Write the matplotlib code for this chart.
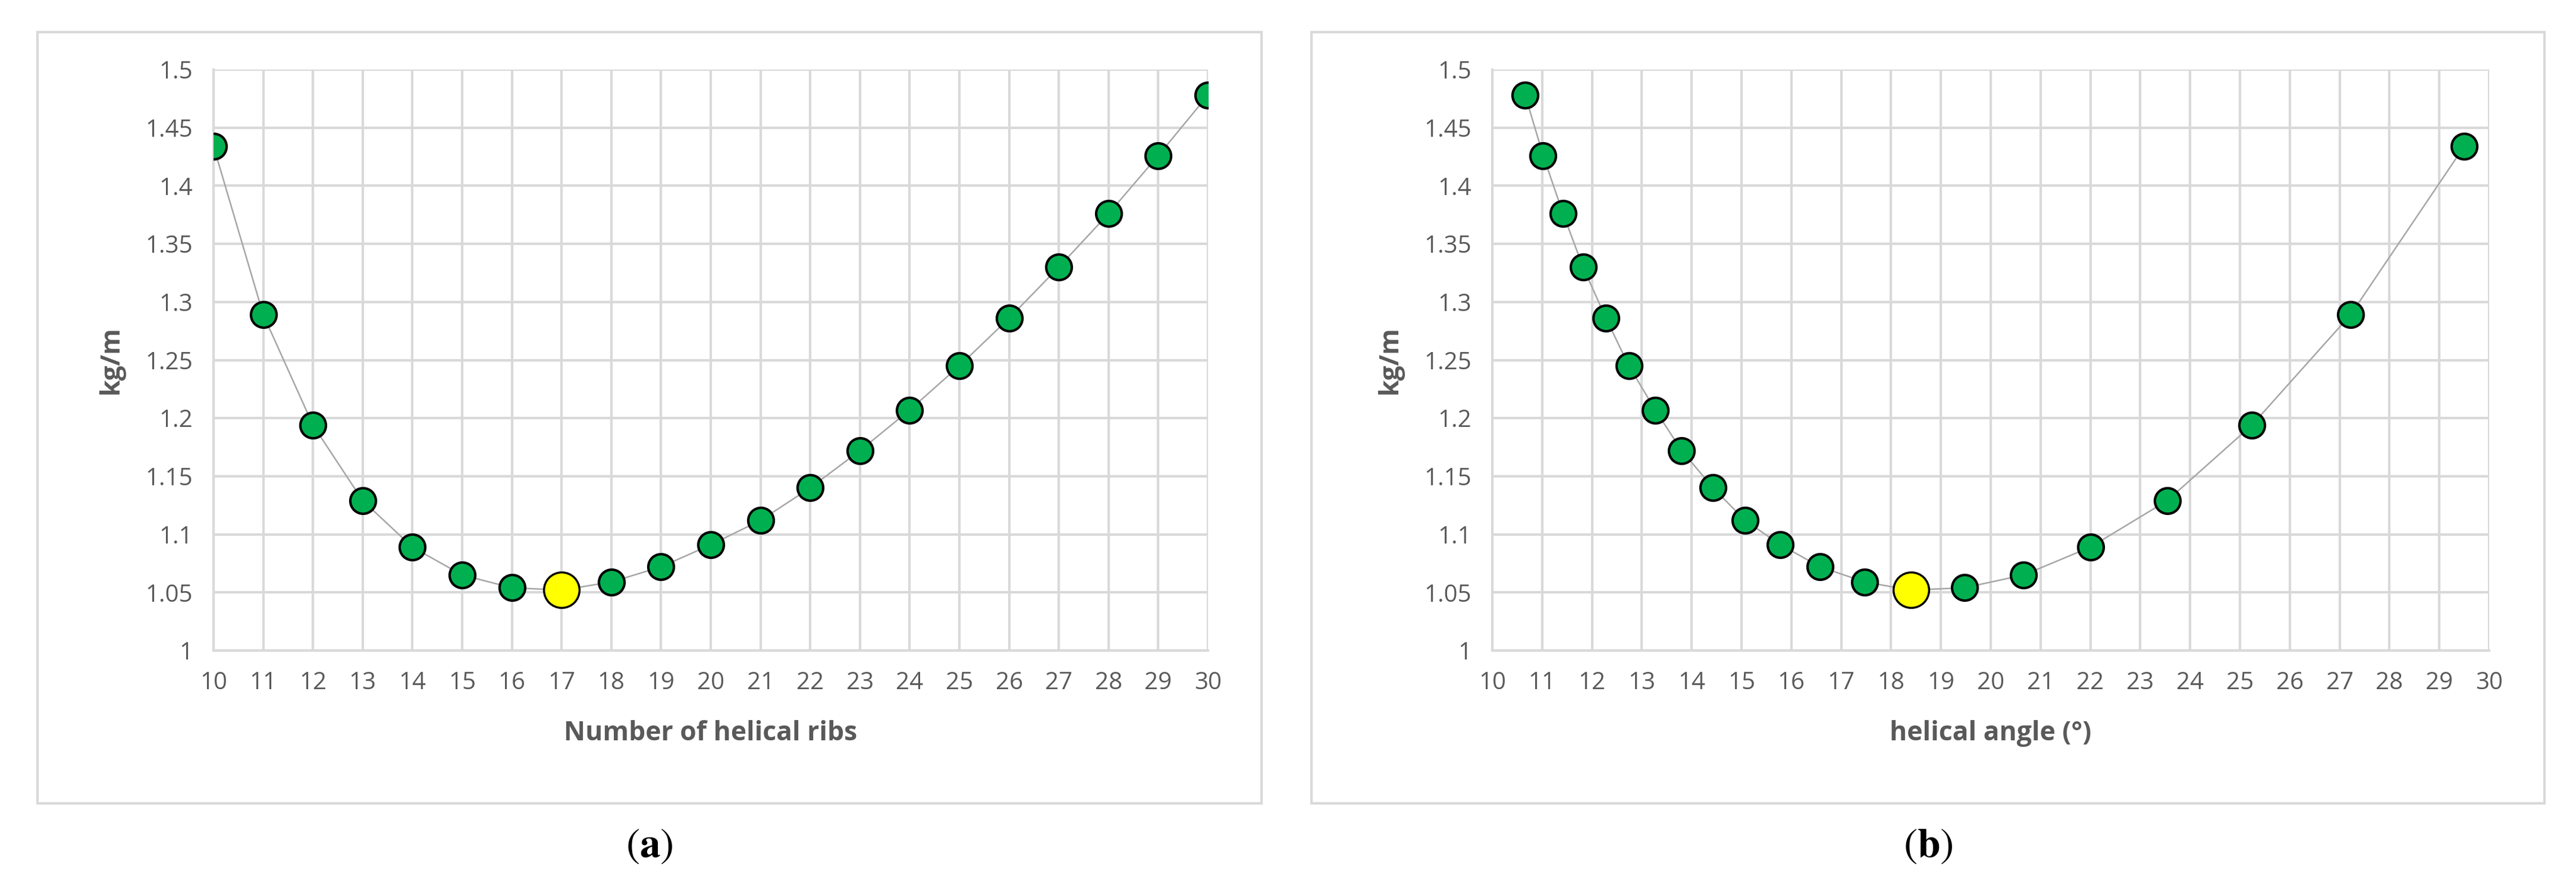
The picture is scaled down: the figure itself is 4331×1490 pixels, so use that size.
import numpy as np
import matplotlib.pyplot as plt
from matplotlib.patches import Rectangle

# data
ribs = [10, 11, 12, 13, 14, 15, 16, 17, 18, 19, 20, 21, 22, 23, 24, 25, 26, 27, 28, 29, 30]
mass = [1.434, 1.289, 1.194, 1.129, 1.089, 1.065, 1.054, 1.052, 1.059, 1.072, 1.091,
        1.112, 1.140, 1.172, 1.207, 1.245, 1.286, 1.330, 1.376, 1.426, 1.478]
angle = [29.50, 27.22, 25.24, 23.54, 22.00, 20.66, 19.47, 18.40, 17.47, 16.58, 15.78,
         15.07, 14.43, 13.80, 13.27, 12.74, 12.28, 11.82, 11.42, 11.02, 10.66]
best = 7  # index of optimum (17 ribs)

W, H = 4331, 1490
fig = plt.figure(figsize=(W / 100, H / 100), dpi=100)
plt.rcParams['font.family'] = ['Open Sans', 'DejaVu Sans']
plt.rcParams['mathtext.fontset'] = 'stix'
grey = '#595959'

panels = [
    (ribs, "Number of helical ribs", "a", 63, 2121, 359, 2031),
    (angle, "helical angle (°)", "b", 2205, 4278, 2509, 4185),
]

for x, xlabel, tag, bl, br, al, ar in panels:
    # outer frame
    fig.patches.append(Rectangle((bl / W, 1 - 1351 / H), (br - bl) / W, (1351 - 54) / H,
                                 transform=fig.transFigure, fill=False,
                                 edgecolor='#d9d9d9', linewidth=3))
    ax = fig.add_axes([al / W, 1 - 1094 / H, (ar - al) / W, (1094 - 117) / H])
    ax.plot(x, mass, color='#a6a6a6', linewidth=1.8, zorder=2)
    others = [i for i in range(len(x)) if i != best]
    ax.plot([x[i] for i in others], [mass[i] for i in others], 'o', linestyle='none',
            markersize=31, markerfacecolor='#00b050', markeredgecolor='black',
            markeredgewidth=3, zorder=3)
    ax.plot([x[best]], [mass[best]], 'o', markersize=43, markerfacecolor='#ffff00',
            markeredgecolor='black', markeredgewidth=2.5, zorder=4)
    ax.set_xlim(10, 30)
    ax.set_ylim(1, 1.5)
    ax.set_xticks(range(10, 31))
    ax.set_yticks(np.arange(1, 1.501, 0.05))
    ax.set_yticklabels(['1', '1.05', '1.1', '1.15', '1.2', '1.25', '1.3', '1.35', '1.4', '1.45', '1.5'])
    ax.grid(True, color='#d9d9d9', linewidth=3)
    ax.set_axisbelow(True)
    for s in ['top', 'right']:
        ax.spines[s].set_visible(False)
    for s in ['left', 'bottom']:
        ax.spines[s].set_color('#d9d9d9')
        ax.spines[s].set_linewidth(3)
    ax.tick_params(length=0, labelsize=29, labelcolor=grey, pad=25)
    ax.set_xlabel(xlabel, fontsize=32, color=grey, fontweight='bold', labelpad=30)
    ax.set_ylabel("kg/m", fontsize=32, color=grey, fontweight='bold', labelpad=25)
    fig.text((bl + br) / 2 / W, 1 - 1423 / H, r'$(\mathbf{%s})$' % tag, ha='center',
             va='center', fontsize=50)

fig.savefig("out.png", dpi=100)
